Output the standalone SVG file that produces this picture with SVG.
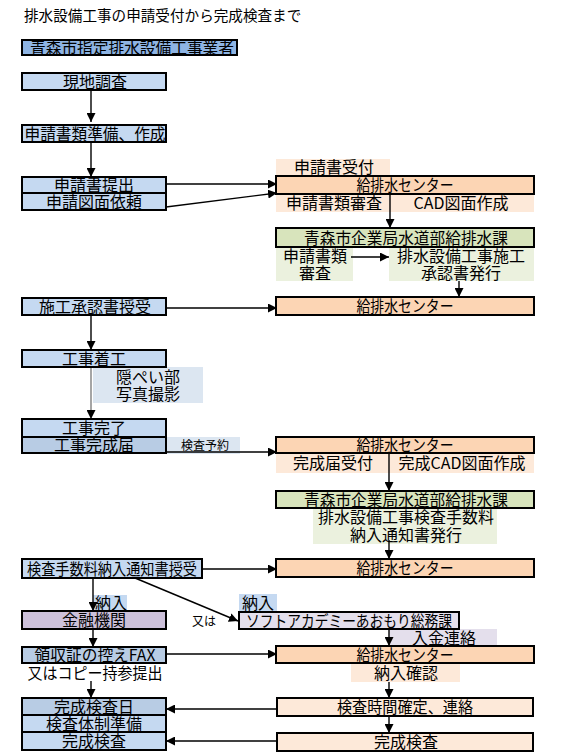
<svg xmlns="http://www.w3.org/2000/svg" width="561" height="755" viewBox="0 0 561 755">
<defs>
<marker id="ah" markerUnits="userSpaceOnUse" markerWidth="9" markerHeight="9" refX="9" refY="4.5" orient="auto">
<path d="M0,0 L9,4.5 L0,9 z" fill="#000"/>
</marker>
<style>
text{font-family:"Noto Sans CJK JP","Noto Sans",sans-serif;font-size:16px;fill:#000;text-anchor:middle;dominant-baseline:central;transform:translateY(-1px)}
.box{stroke:#000;stroke-width:2}
.blue{fill:#C5D9F1}.blue2{fill:#B8CCE4}.blue3{fill:#8EB4E3}
.org{fill:#FCD5B4}.lorg{fill:#FDE9D9}.grn{fill:#D8E4BC}.lgrn{fill:#EBF1DE}
.pur{fill:#CCC0DA}.lav{fill:#E4DFEC}.lblue{fill:#DCE6F1}
.c{fill:none;stroke:#000;stroke-width:1.4;marker-end:url(#ah)}
.g{stroke:#7f7f7f}
.sm{font-size:12px}
.title{font-size:14.6px;text-anchor:start}
</style>
</defs>
<text class="title" x="24" y="15">排水設備工事の申請受付から完成検査まで</text>

<g id="labels">
<rect class="lorg" x="276" y="159" width="114" height="17"/>
<rect class="lorg" x="276" y="194" width="258" height="18"/>
<rect class="lgrn" x="276" y="247" width="77" height="34"/>
<rect class="lgrn" x="389" y="247" width="145" height="34"/>
<rect class="lblue" x="93" y="367" width="110" height="36"/>
<rect class="lblue" x="166" y="437" width="74" height="17"/>
<rect class="lorg" x="276" y="453" width="258" height="20"/>
<rect class="lgrn" x="313" y="508" width="184" height="36"/>
<rect class="blue" x="93" y="595" width="34" height="16"/>
<rect class="blue" x="239" y="594" width="38" height="18"/>
<rect class="lav" x="389" y="629" width="108" height="16"/>
<rect class="lorg" x="351" y="663" width="109" height="19"/>
</g>

<g id="connectors">
<line class="c" x1="91" y1="90" x2="91" y2="122"/>
<line class="c" x1="91" y1="142" x2="91" y2="177"/>
<line class="c" x1="166" y1="184" x2="277" y2="184"/>
<line class="c" x1="166" y1="207" x2="277" y2="193"/>
<line class="c" x1="390" y1="194" x2="390" y2="228"/>
<line class="c" x1="351" y1="257" x2="389" y2="257"/>
<line class="c" x1="459" y1="281" x2="459" y2="297"/>
<line class="c" x1="166" y1="308" x2="277" y2="308"/>
<line class="c" x1="91" y1="315" x2="91" y2="350"/>
<line class="c g" x1="91" y1="367" x2="91" y2="419"/>
<line class="c" x1="166" y1="452" x2="277" y2="452"/>
<line class="c" x1="389" y1="453" x2="389" y2="491"/>
<line class="c" x1="389" y1="540" x2="389" y2="559"/>
<line class="c" x1="202" y1="569" x2="277" y2="569"/>
<line class="c" x1="93" y1="578" x2="93" y2="611"/>
<line class="c" x1="135" y1="578" x2="238" y2="621"/>
<line class="c" x1="93" y1="629" x2="93" y2="647"/>
<line class="c" x1="389" y1="629" x2="389" y2="646"/>
<line class="c" x1="166" y1="654" x2="277" y2="654"/>
<line class="c" x1="91" y1="681" x2="91" y2="698"/>
<line class="c" x1="389" y1="682" x2="389" y2="698"/>
<line class="c" x1="389" y1="716" x2="389" y2="733"/>
<line class="c" x1="277" y1="709" x2="166" y2="709"/>
<line class="c" x1="277" y1="741" x2="166" y2="741"/>
</g>

<g id="n-gyosha"><rect class="box blue3" x="22" y="40" width="215" height="15"/><text x="132" y="47.5" textLength="204" lengthAdjust="spacingAndGlyphs">青森市指定排水設備工事業者</text></g>
<g id="n-genchi"><rect class="box blue" x="22" y="73" width="144" height="17"/><text x="95" y="81.5">現地調査</text></g>
<g id="n-junbi"><rect class="box blue" x="22" y="125" width="144" height="17"/><text x="95" y="133.5" textLength="141" lengthAdjust="spacingAndGlyphs">申請書類準備、作成</text></g>
<g id="n-teishutsu"><rect class="box blue" x="22" y="177" width="144" height="16"/><text x="94" y="185">申請書提出</text></g>
<g id="n-zumen"><rect class="box blue" x="22" y="193" width="144" height="17"/><text x="94" y="201.5">申請図面依頼</text></g>

<g id="l-uketsuke"><text x="334" y="167" font-size="15.5">申請書受付</text></g>
<g id="n-center1"><rect class="box org" x="276" y="176" width="258" height="18"/><text x="405" y="185" textLength="97" lengthAdjust="spacingAndGlyphs">給排水センター</text></g>
<g id="l-shinsa1"><text x="334" y="203" font-size="15.5">申請書類審査</text><text x="461" y="203">CAD図面作成</text></g>
<g id="n-kyusui1"><rect class="box grn" x="276" y="228" width="258" height="19"/><text x="406" y="237.5" textLength="204" lengthAdjust="spacingAndGlyphs">青森市企業局水道部給排水課</text></g>
<g id="l-shinsa2"><text x="315" y="256" font-size="15.5">申請書類</text><text x="315" y="273" font-size="15.5">審査</text></g>
<g id="l-hakko1"><text x="461" y="256" font-size="15.5">排水設備工事施工</text><text x="461" y="273" font-size="15.5">承認書発行</text></g>
<g id="n-center2"><rect class="box org" x="276" y="297" width="258" height="18"/><text x="405" y="306" textLength="97" lengthAdjust="spacingAndGlyphs">給排水センター</text></g>

<g id="n-juju"><rect class="box blue" x="22" y="298" width="144" height="17"/><text x="95" y="306.5">施工承認書授受</text></g>
<g id="n-chakko"><rect class="box blue" x="22" y="350" width="144" height="17"/><text x="94" y="358.5">工事着工</text></g>
<g id="l-inpei"><text x="148" y="377" font-size="15">隠ぺい部</text><text x="148" y="394" font-size="15">写真撮影</text></g>
<g id="n-kanryo"><rect class="box blue" x="22" y="419" width="144" height="18"/><text x="94" y="428">工事完了</text></g>
<g id="n-kanseitodoke"><rect class="box blue2" x="22" y="437" width="144" height="16"/><text x="94" y="445">工事完成届</text></g>
<g id="l-yoyaku"><text class="sm" x="205" y="445">検査予約</text></g>

<g id="n-center3"><rect class="box org" x="276" y="437" width="258" height="16"/><text x="405" y="445" textLength="97" lengthAdjust="spacingAndGlyphs">給排水センター</text></g>
<g id="l-kansei"><text x="333" y="463" font-size="15.5">完成届受付</text><text x="462" y="463">完成CAD図面作成</text></g>
<g id="n-kyusui2"><rect class="box grn" x="276" y="491" width="258" height="17"/><text x="406" y="499.5" textLength="204" lengthAdjust="spacingAndGlyphs">青森市企業局水道部給排水課</text></g>
<g id="l-tesuryo"><text x="406" y="517" font-size="15.5">排水設備工事検査手数料</text><text x="406" y="535" font-size="15.5">納入通知書発行</text></g>
<g id="n-center4"><rect class="box org" x="276" y="559" width="258" height="18"/><text x="405" y="568" textLength="97" lengthAdjust="spacingAndGlyphs">給排水センター</text></g>

<g id="n-tsuchi"><rect class="box blue" x="22" y="559" width="180" height="19"/><text x="112" y="568.5" font-size="15" textLength="170" lengthAdjust="spacingAndGlyphs">検査手数料納入通知書授受</text></g>
<g id="l-nonyu1"><text x="111" y="603" font-size="15">納入</text></g>
<g id="n-kinyu"><rect class="box pur" x="22" y="611" width="144" height="18"/><text x="94" y="620">金融機関</text></g>
<g id="l-mataha"><text class="sm" x="204" y="621">又は</text></g>
<g id="l-nonyu2"><text x="258" y="603" font-size="15">納入</text></g>
<g id="n-soft"><rect class="box lav" x="239" y="612" width="220" height="17"/><text x="349" y="620.5" textLength="206" lengthAdjust="spacingAndGlyphs">ソフトアカデミーあおもり総務課</text></g>
<g id="l-nyukin"><text x="444" y="637.5">入金連絡</text></g>

<g id="n-fax"><rect class="box blue2" x="22" y="647" width="144" height="16"/><text x="95" y="655" textLength="121" lengthAdjust="spacingAndGlyphs">領収証の控えFAX</text></g>
<g id="l-copy"><text x="95" y="673" textLength="135" lengthAdjust="spacingAndGlyphs">又はコピー持参提出</text></g>
<g id="n-center5"><rect class="box org" x="276" y="646" width="258" height="17"/><text x="405" y="654.5" textLength="97" lengthAdjust="spacingAndGlyphs">給排水センター</text></g>
<g id="l-kakunin"><text x="406" y="673" font-size="15.5">納入確認</text></g>

<g id="n-kanseibi"><rect class="box blue2" x="22" y="698" width="144" height="17"/><text x="94" y="706.5">完成検査日</text></g>
<g id="n-taisei"><rect class="box blue" x="22" y="715" width="144" height="17"/><text x="94" y="723.5" font-size="15.5">検査体制準備</text></g>
<g id="n-kensa-l"><rect class="box blue" x="22" y="732" width="144" height="18"/><text x="94" y="741">完成検査</text></g>
<g id="n-jikan"><rect class="box lorg" x="277" y="698" width="256" height="18"/><text x="405" y="707" textLength="136" lengthAdjust="spacingAndGlyphs">検査時間確定、連絡</text></g>
<g id="n-kensa-r"><rect class="box lorg" x="277" y="733" width="256" height="18"/><text x="406" y="742">完成検査</text></g>
</svg>
